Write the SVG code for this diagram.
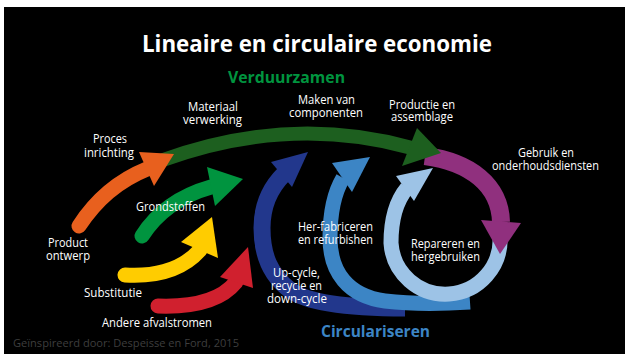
<svg xmlns="http://www.w3.org/2000/svg" width="625" height="354" viewBox="0 0 625 354">
<style>
.lbl{font-family:"Open Sans","Noto Sans","DejaVu Sans",sans-serif;font-size:12px;fill:#ffffff;text-anchor:middle}
.shaft{fill:none;stroke-linecap:butt}
.tail{fill:none;stroke-linecap:round}
</style>
<rect x="0" y="0" width="625" height="354" fill="#ffffff"/>
<rect x="4" y="7" width="621" height="347" fill="#000000"/>
<g id="connectors">
  <g id="arrow-upcycle">
    <path class="shaft" d="M 405 308 C 360 308 310 305 290 290 C 270 275 262 255 262 228 C 262 205 270 188 284 174" stroke="#22378c" stroke-width="17"/>
    <polygon points="308,152 271,162 292,187" fill="#22378c"/>
  </g>
  <g id="arrow-refurbish">
    <path class="shaft" d="M 470 302 C 440 304 410 304 385 301 C 348 296 330 272 330 238 C 330 212 334 193 343 178" stroke="#3c85c5" stroke-width="15"/>
    <polygon points="370,157 332,163 352,192" fill="#3c85c5"/>
  </g>
  <g id="arrow-repair">
    <path class="shaft" d="M 500 236 A 54.5 54.5 0 1 1 391 243 C 391 216 397 200 407 188" stroke="#9dc3e6" stroke-width="15"/>
    <polygon points="433,168 396,176 414,201" fill="#9dc3e6"/>
  </g>
  <g id="arrow-use">
    <path class="shaft" d="M 425 156 C 470 162 500 185 501 222" stroke="#90307e" stroke-width="18"/>
    <polygon points="481,220 521,223 500,254" fill="#90307e"/>
  </g>
  <g id="arrow-sustain">
    <path class="shaft" d="M 163 160 Q 290 114 412 148" stroke="#1d5f1f" stroke-width="14"/>
    <polygon points="441,153 417,128 402,166" fill="#1d5f1f"/>
  </g>
  <g id="arrow-design">
    <path class="tail" d="M 79 226 Q 105 186 147 169" stroke="#e8601e" stroke-width="15"/>
    <polygon points="174,154 139,152 154,186" fill="#e8601e"/>
  </g>
  <g id="arrow-raw">
    <path class="tail" d="M 142 236 Q 165 200 211 187" stroke="#00943f" stroke-width="15"/>
    <polygon points="243,179 207,167 215,206" fill="#00943f"/>
  </g>
  <g id="arrow-subst">
    <path class="tail" d="M 125 275 Q 175 278 200 250" stroke="#ffcc00" stroke-width="15"/>
    <polygon points="212,217 181,242 218,258" fill="#ffcc00"/>
  </g>
  <g id="arrow-waste">
    <path class="tail" d="M 158 306 Q 215 308 236 282" stroke="#d0202e" stroke-width="15"/>
    <polygon points="248,247 220,277 253,288" fill="#d0202e"/>
  </g>
</g>
<g id="title">
  <text x="317" y="52" font-family="'Open Sans','Noto Sans',sans-serif" font-weight="bold" font-size="24" fill="#ffffff" text-anchor="middle" textLength="350" lengthAdjust="spacingAndGlyphs">Lineaire en circulaire economie</text>
</g>
<g id="heading-verduurzamen">
  <text x="286.5" y="83" font-family="'Open Sans','Noto Sans',sans-serif" font-weight="bold" font-size="16.5" fill="#00943f" text-anchor="middle" textLength="117" lengthAdjust="spacingAndGlyphs">Verduurzamen</text>
</g>
<g id="heading-circulariseren">
  <text x="375.5" y="337" font-family="'Open Sans','Noto Sans',sans-serif" font-weight="bold" font-size="15.5" fill="#3c85c5" text-anchor="middle" textLength="109" lengthAdjust="spacingAndGlyphs">Circulariseren</text>
</g>
<g id="node-materiaal"><text class="lbl" x="213" y="111" textLength="50" lengthAdjust="spacingAndGlyphs">Materiaal</text><text class="lbl" x="212.5" y="124" textLength="59" lengthAdjust="spacingAndGlyphs">verwerking</text></g>
<g id="node-maken"><text class="lbl" x="326.5" y="104" textLength="57" lengthAdjust="spacingAndGlyphs">Maken van</text><text class="lbl" x="326" y="117" textLength="74" lengthAdjust="spacingAndGlyphs">componenten</text></g>
<g id="node-productie"><text class="lbl" x="422" y="109" textLength="66" lengthAdjust="spacingAndGlyphs">Productie en</text><text class="lbl" x="422" y="121" textLength="62" lengthAdjust="spacingAndGlyphs">assemblage</text></g>
<g id="node-gebruik"><text class="lbl" x="546" y="157" textLength="56" lengthAdjust="spacingAndGlyphs">Gebruik en</text><text class="lbl" x="545.5" y="170" textLength="107" lengthAdjust="spacingAndGlyphs">onderhoudsdiensten</text></g>
<g id="node-proces"><text class="lbl" x="110" y="143" textLength="34" lengthAdjust="spacingAndGlyphs">Proces</text><text class="lbl" x="109" y="157" textLength="50" lengthAdjust="spacingAndGlyphs">inrichting</text></g>
<g id="node-grondstoffen"><text class="lbl" x="170.5" y="211" textLength="69" lengthAdjust="spacingAndGlyphs">Grondstoffen</text></g>
<g id="node-product"><text class="lbl" x="68" y="247" textLength="40" lengthAdjust="spacingAndGlyphs">Product</text><text class="lbl" x="68" y="260" textLength="44" lengthAdjust="spacingAndGlyphs">ontwerp</text></g>
<g id="node-substitutie"><text class="lbl" x="113" y="297" textLength="58" lengthAdjust="spacingAndGlyphs">Substitutie</text></g>
<g id="node-afval"><text class="lbl" x="157" y="327" textLength="110" lengthAdjust="spacingAndGlyphs">Andere afvalstromen</text></g>
<g id="node-herfabriceren"><text class="lbl" x="335.5" y="231" textLength="75" lengthAdjust="spacingAndGlyphs">Her-fabriceren</text><text class="lbl" x="335.5" y="244" textLength="75" lengthAdjust="spacingAndGlyphs">en refurbishen</text></g>
<g id="node-repareren"><text class="lbl" x="445.5" y="248" textLength="69" lengthAdjust="spacingAndGlyphs">Repareren en</text><text class="lbl" x="445.5" y="261" textLength="69" lengthAdjust="spacingAndGlyphs">hergebruiken</text></g>
<g id="node-upcycle"><text class="lbl" x="296.5" y="277" textLength="47" lengthAdjust="spacingAndGlyphs">Up-cycle,</text><text class="lbl" x="296.5" y="290" textLength="51" lengthAdjust="spacingAndGlyphs">recycle en</text><text class="lbl" x="297" y="303" textLength="60" lengthAdjust="spacingAndGlyphs">down-cycle</text></g>
<g id="footnote"><text x="13" y="347" font-family="'Open Sans','Noto Sans',sans-serif" font-size="11.5" fill="#3e3e3e" textLength="226" lengthAdjust="spacingAndGlyphs">Geïnspireerd door: Despeisse en Ford, 2015</text></g>
</svg>
